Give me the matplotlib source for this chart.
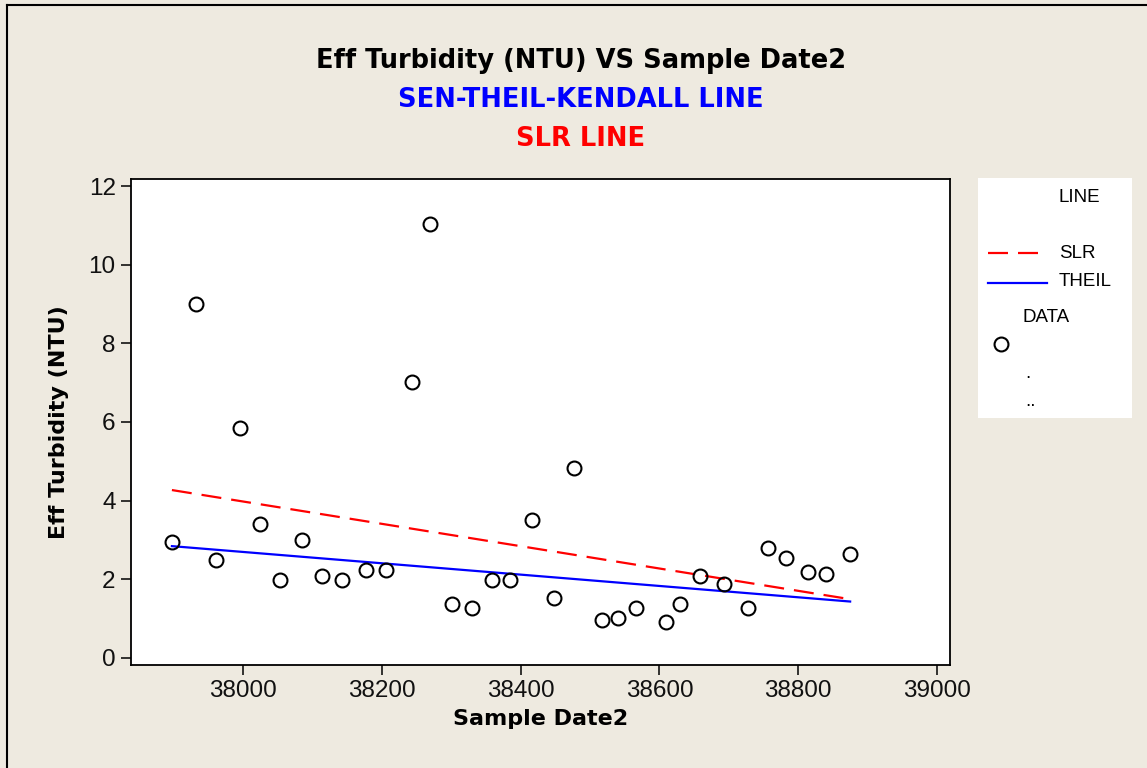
import numpy as np
import matplotlib.pyplot as plt
from matplotlib.lines import Line2D

# Data (Sample Date2 as serial day numbers)
sample_date = [37897, 37932, 37961, 37995, 38024, 38053, 38085, 38113, 38142,
               38177, 38206, 38243, 38269, 38301, 38330, 38359, 38385, 38416,
               38448, 38477, 38517, 38540, 38566, 38610, 38630, 38659, 38693,
               38728, 38757, 38783, 38814, 38840, 38875]
turbidity = [2.96, 9.0, 2.49, 5.85, 3.41, 1.98, 3.0, 2.08, 1.98,
             2.24, 2.24, 7.02, 11.03, 1.37, 1.27, 1.98, 1.98, 3.51,
             1.53, 4.83, 0.97, 1.02, 1.27, 0.92, 1.37, 2.08, 1.88,
             1.27, 2.80, 2.54, 2.19, 2.14, 2.64]

x = np.array(sample_date, dtype=float)
y = np.array(turbidity)

# simple linear regression
slr_slope, slr_int = np.polyfit(x, y, 1)
# Sen-Theil-Kendall: median of pairwise slopes, line through the medians
i, j = np.triu_indices(len(x), 1)
theil_slope = np.median((y[j] - y[i]) / (x[j] - x[i]))
theil_int = np.median(y) - theil_slope * np.median(x)

bg = '#EEEAE0'
W, H = 1147, 768
plt.rcParams['font.family'] = ['Liberation Sans', 'DejaVu Sans']
fig = plt.figure(figsize=(W / 100, H / 100), dpi=100, facecolor=bg)

ax = fig.add_axes([131 / W, 1 - 665 / H, (950 - 131) / W, (665 - 179) / H])
ax.set_facecolor('white')

xs = np.array([x.min(), x.max()])
ax.plot(xs, slr_slope * xs + slr_int, color='red', lw=1.6, dashes=(9, 4.5))
ax.plot(xs, theil_slope * xs + theil_int, color='blue', lw=1.6)
ax.plot(x, y, 'o', ms=10, mfc='none', mec='black', mew=1.5)

ax.set_xlim(37838, 39019)
ax.set_ylim(-0.18, 12.18)
ax.set_xticks([38000, 38200, 38400, 38600, 38800, 39000])
ax.set_yticks([0, 2, 4, 6, 8, 10, 12])
ax.tick_params(direction='out', length=7, width=1.1, labelsize=17.5, pad=4, colors='black',
               labelcolor='#111111')
for s in ax.spines.values():
    s.set_linewidth(1.3)

bold = dict(family='DejaVu Sans', fontweight='bold')
ax.set_xlabel('Sample Date2', fontsize=16, labelpad=5, **bold)
ax.set_ylabel('Eff Turbidity (NTU)', fontsize=16, labelpad=14, **bold)

fig.text(581 / W, 1 - 61 / H, 'Eff Turbidity (NTU) VS Sample Date2', ha='center', va='center',
         fontsize=18.5, color='black', **bold)
fig.text(581 / W, 1 - 100 / H, 'SEN-THEIL-KENDALL LINE', ha='center', va='center',
         fontsize=18.5, color='blue', **bold)
fig.text(581 / W, 1 - 139 / H, 'SLR LINE', ha='center', va='center',
         fontsize=18.5, color='red', **bold)

# legend box in pixel coordinates
lg = fig.add_axes([978 / W, 1 - 418 / H, 154 / W, 240 / H])
lg.set_xlim(978, 1132)
lg.set_ylim(418, 178)
lg.set_facecolor('white')
lg.set_xticks([])
lg.set_yticks([])
for s in lg.spines.values():
    s.set_visible(False)
lfs = 13.5
lg.text(1059, 198, 'LINE', va='center', ha='left', fontsize=lfs)
lg.plot([988, 1046], [253, 253], color='red', lw=1.6, dashes=(9, 4.5))
lg.text(1059, 254, 'SLR', va='center', ha='left', fontsize=lfs)
lg.plot([988, 1047], [283, 283], color='blue', lw=1.6)
lg.text(1059, 282, 'THEIL', va='center', ha='left', fontsize=lfs)
lg.text(1023, 317, 'DATA', va='center', ha='left', fontsize=lfs)
lg.plot([1001], [344], 'o', ms=10, mfc='none', mec='black', mew=1.5)
lg.text(1025, 374, '.', va='center', ha='left', fontsize=lfs)
lg.text(1025, 401, '..', va='center', ha='left', fontsize=lfs)

# outer frame (top and left only)
fig.add_artist(Line2D([7 / W, 1], [1 - 5 / H, 1 - 5 / H], transform=fig.transFigure, color='black', lw=1.5))
fig.add_artist(Line2D([7 / W, 7 / W], [0, 1 - 5 / H], transform=fig.transFigure, color='black', lw=1.5))

fig.savefig('out.png', dpi=100, facecolor=bg)
